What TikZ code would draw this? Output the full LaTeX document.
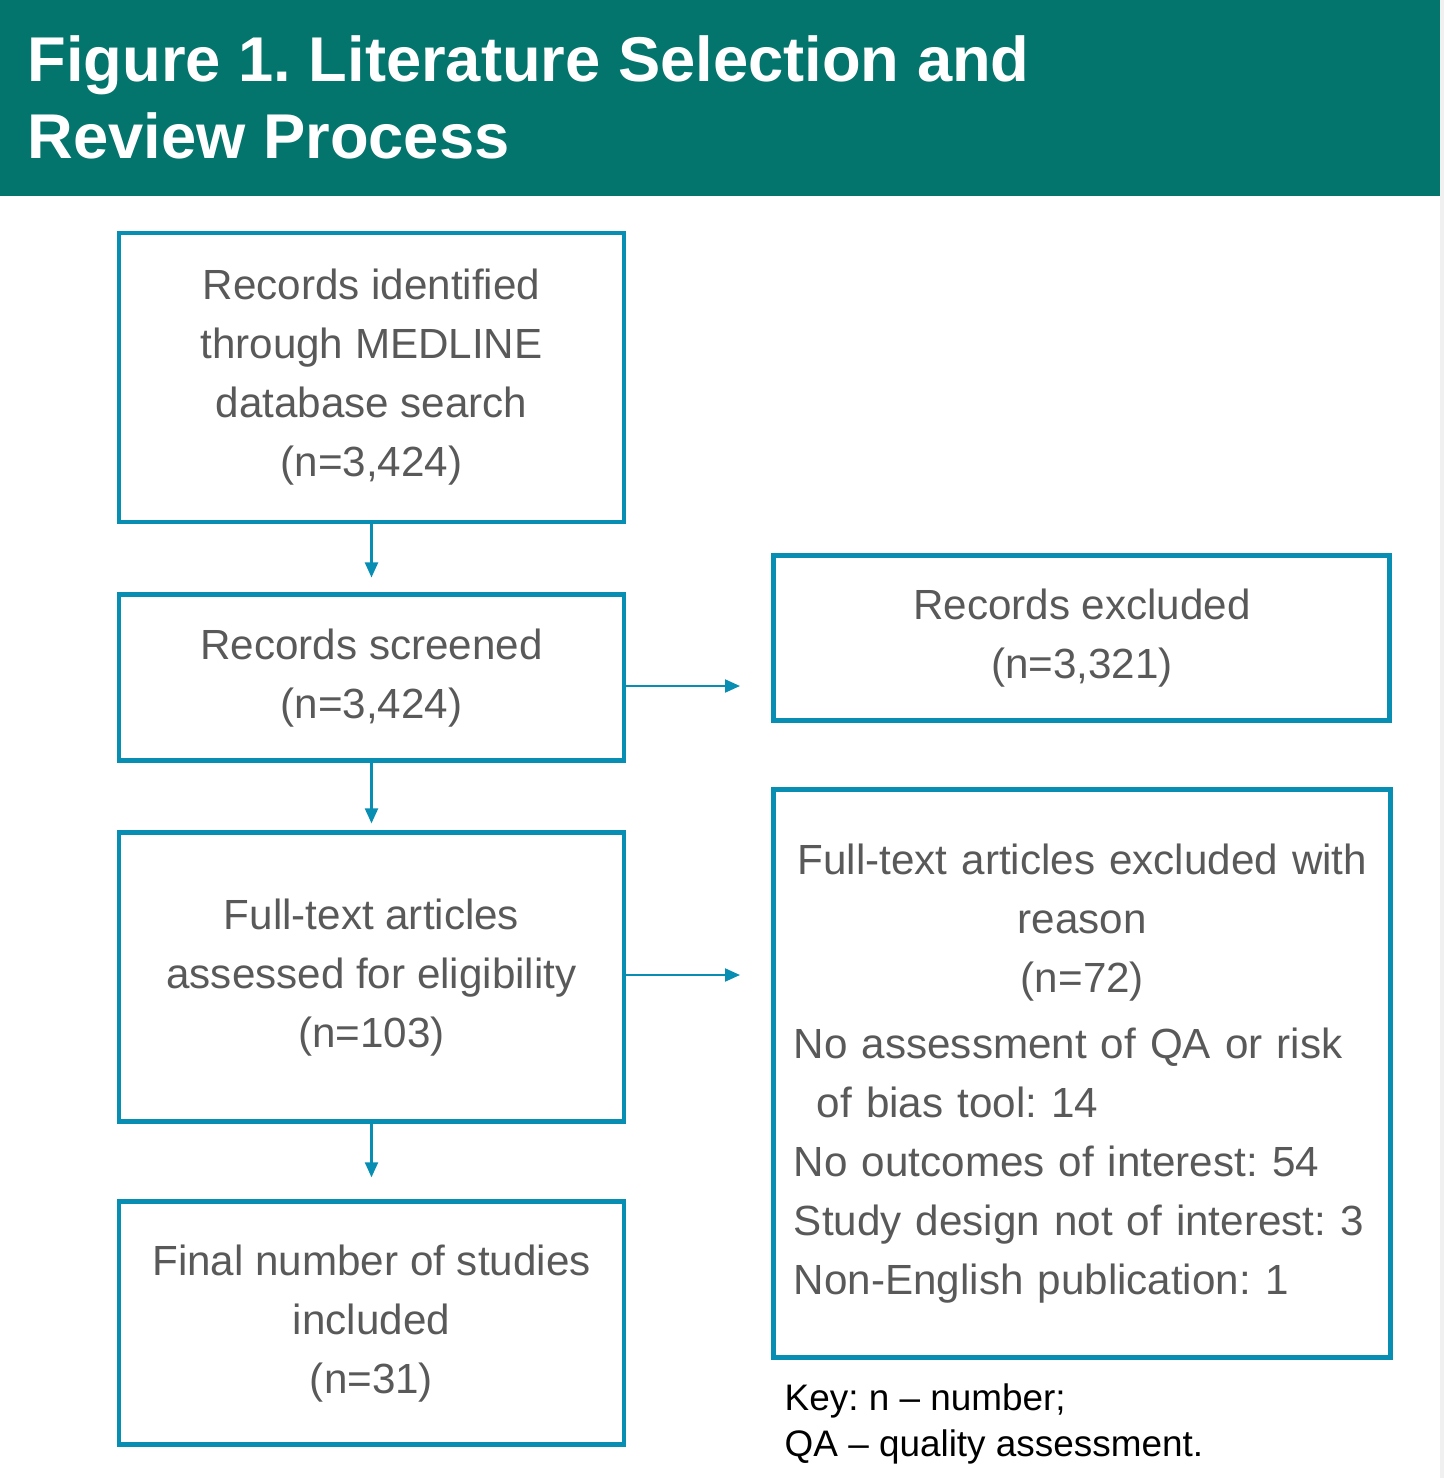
\documentclass[tikz,border=0pt]{standalone}
\usepackage{fontspec}
\setmainfont{Liberation Sans}
\usetikzlibrary{positioning,arrows.meta}
\setlength\parindent{0pt}
\frenchspacing
\definecolor{headteal}{RGB}{3,117,108}
\definecolor{boxblue}{RGB}{8,142,178}
\definecolor{boxgrey}{RGB}{89,89,89}
\definecolor{edgegrey}{RGB}{240,240,240}
\tikzset{
  box/.style={draw=boxblue, line width=1.4pt, text=boxgrey, align=center,
    inner sep=0.2cm, font=\fontsize{12}{16.8}\selectfont},
  arr/.style={draw=boxblue, line width=0.6pt,
    -{Triangle[length=0.15cm,width=0.13cm]}},
}

\begin{document}
\begin{tikzpicture}
   \useasboundingbox (0,0) rectangle (14.44,-14.78);
   \fill[headteal] (0,0) rectangle (14.40,-1.96);
   \fill[edgegrey] (14.40,0) rectangle (14.44,-14.78);

   \node[anchor=north west, inner sep=0pt, align=left, text=white,
      font=\fontsize{18}{21.9}\selectfont\bfseries] (title) at (0.27,-0.35)
      {Figure 1. Literature Selection and\\Review Process};

   \node[box, minimum width=5.05cm, minimum height=2.89cm] (b1) at (3.715,-3.775)
      {Records identified\\through MEDLINE\\database search\\(n=3,424)};
   \node[box, minimum width=5.05cm, minimum height=1.66cm, below=0.68cm of b1] (b2)
      {Records screened\\(n=3,424)};
   \node[box, minimum width=5.05cm, minimum height=2.89cm, below=0.67cm of b2] (b3)
      {Full-text articles\\assessed for eligibility\\(n=103)};
   \node[box, minimum width=5.05cm, minimum height=2.43cm, below=0.75cm of b3] (b4)
      {Final number of studies\\included\\(n=31)};

   \node[box, minimum width=6.16cm, minimum height=1.65cm,
      right=1.45cm of b2, yshift=0.395cm] (r1) {Records excluded\\(n=3,321)};
   \node[box, text width=5.77cm, minimum height=5.68cm, align=left,
      right=1.45cm of b3, yshift=-0.965cm] (r2)
      {{\centering Full-text articles excluded with\\reason\\(n=72)\par}
       \vspace{0.07cm}
       No assessment of QA or risk\par
       \hspace*{0.23cm}of bias tool: 14\par
       No outcomes of interest: 54\par
       Study design not of interest: 3\par
       Non-English publication: 1};

   \coordinate (h1) at (7.40,-6.86);
   \coordinate (h2) at (7.40,-9.75);

   \draw[arr, shorten >=0.15cm] (b1.south) -- (b2.north);
   \draw[arr, shorten >=0.07cm] (b2.south) -- (b3.north);
   \draw[arr, shorten >=0.22cm] (b3.south) -- (b4.north);
   \draw[arr] (b2.east |- h1) -- (h1);
   \draw[arr] (b3.east |- h2) -- (h2);

   \node[anchor=north west, inner sep=0pt, align=left,
      font=\fontsize{10.5}{13.1}\selectfont] (key) at (7.84,-13.83)
      {Key: n – number;\\QA – quality assessment.};
\end{tikzpicture}
\end{document}
